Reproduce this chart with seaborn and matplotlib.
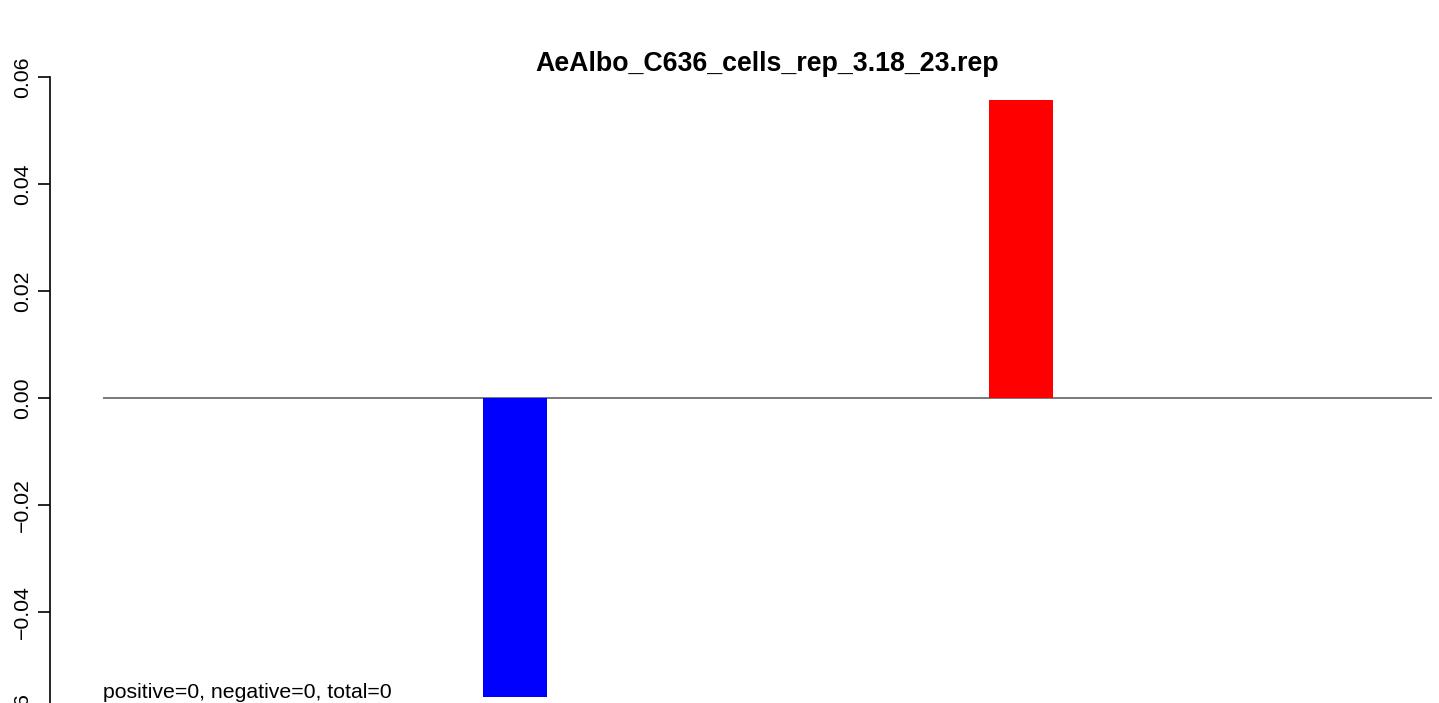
import pandas as pd
import matplotlib
matplotlib.use("Agg")
import matplotlib.pyplot as plt
import seaborn as sns

# Data: one slot per position, only two non-zero
positions = [str(i) for i in range(15)]
values = [0, 0, 0, 0, -0.0559, 0, 0, 0, 0, 0, 0.0557, 0, 0, 0, 0]
bar_colors = ["blue" if v < 0 else "red" for v in values]
title = "AeAlbo_C636_cells_rep_3.18_23.rep"
note = "positive=0, negative=0, total=0"
yticks = [-0.06, -0.04, -0.02, 0.00, 0.02, 0.04, 0.06]

df = pd.DataFrame({"pos": positions, "value": values})

sns.set_style("white", {"text.color": "black", "axes.edgecolor": "black",
                        "ytick.color": "black", "axes.labelcolor": "black"})
plt.rcParams["font.family"] = ["Liberation Sans", "DejaVu Sans"]

W, H = 1439, 703
fig = plt.figure(figsize=(W / 100, H / 100), dpi=100)
# axes: x from 103 to 1432 px, y from 77 (0.06) to 719 (-0.06) px
ax = fig.add_axes([103 / W, (H - 719) / H, (1432 - 103) / W, 642 / H])

sns.barplot(data=df, x="pos", y="value", hue="pos", palette=bar_colors,
            legend=False, width=0.759, linewidth=0, saturation=1, ax=ax)

ax.axhline(0, color="#555555", lw=1.1, zorder=0)
ax.set_xlim(-0.885, 14.874)
ax.set_ylim(-0.06, 0.06)

# R-like detached y axis
for side in ["top", "right", "bottom"]:
    ax.spines[side].set_visible(False)
ax.spines["left"].set_position(("outward", 38.2))
ax.spines["left"].set_bounds(-0.06, 0.06)
ax.spines["left"].set_linewidth(1.2)
ax.spines["left"].set_color("black")
ax.spines["left"].set_clip_on(False)
ax.set_xticks([])
ax.set_yticks(yticks)
ax.set_yticklabels([f"{t:.2f}".replace("-", "\u2212") for t in yticks],
                   rotation=90, va="center", fontsize=15.3, color="black")
ax.tick_params(axis="y", length=8.6, width=1.2, pad=4.3, left=True, color="black")
ax.set_xlabel("")
ax.set_ylabel("")

ax.set_title(title, fontsize=19.3, fontweight="bold", pad=1.5, color="black")
ax.text(-0.885, -0.0560, note, fontsize=15.3, ha="left", va="baseline", color="black")

fig.savefig("out.png", dpi=100)
